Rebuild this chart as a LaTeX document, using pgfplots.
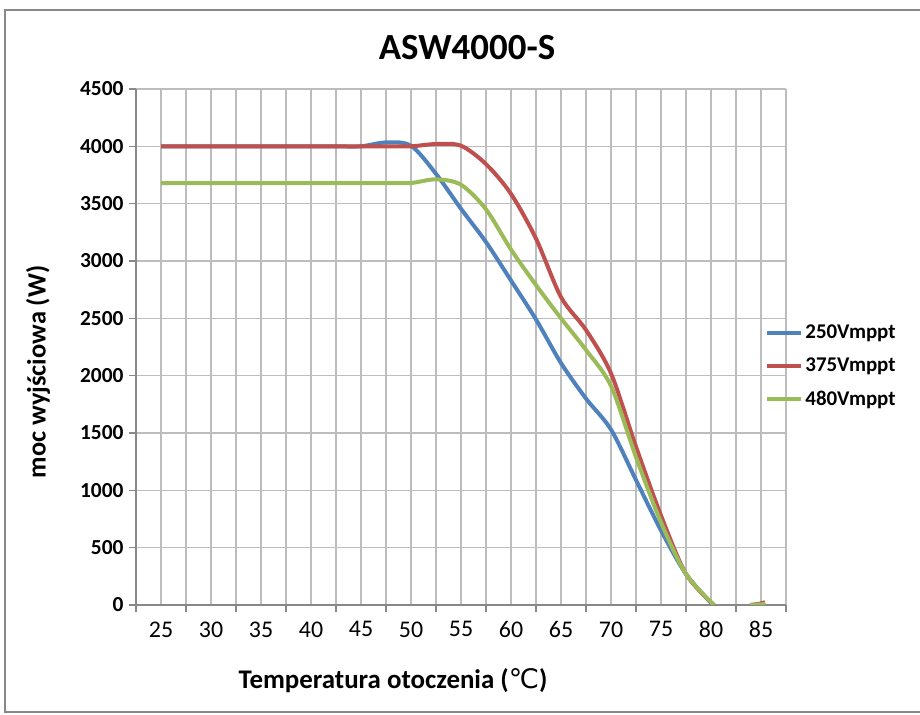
\documentclass[border=0pt]{standalone}
\usepackage{pgfplots}
\pgfplotsset{compat=1.18}
\usepackage{fontspec}
\setmainfont{Carlito}
\newfontfamily\dejavu{DejaVu Sans}

\definecolor{sblue}{HTML}{4F81BD}
\definecolor{sred}{HTML}{C0504D}
\definecolor{sgreen}{HTML}{9BBB59}
\definecolor{gridc}{HTML}{BDBDBD}
\definecolor{axisc}{HTML}{888888}

\begin{document}
\begin{tikzpicture}[x=1bp,y=1bp]
\useasboundingbox (0,0) rectangle (920,715);
\draw[axisc, line width=1.5bp] (5,3) rectangle (940,705);
\begin{axis}[
    at={(136bp,110bp)}, anchor=south west,
    width=650bp, height=516bp, scale only axis,
    xmin=22.5, xmax=87.5, ymin=0, ymax=4500,
    axis x line=bottom, axis y line=left,
    axis line style={-, color=axisc, line width=1.5bp},
    xtick={25,30,...,85},
    minor xtick={22.5,27.5,...,87.5},
    ytick={0,500,...,4500},
    grid=both,
    major grid style={gridc, line width=1.5bp},
    minor grid style={gridc, line width=1.5bp},
    tick align=outside,
    major x tick style={draw=none},
    minor x tick style={axisc, line width=1.5bp},
    minor tick length=7bp,
    y tick style={axisc, line width=1.5bp},
    major tick length=7bp,
    /pgf/number format/assume math mode=true,
    /pgf/number format/1000 sep={},
    xticklabel style={font=\fontsize{24}{24}\selectfont, yshift=-6bp},
    yticklabel style={font=\bfseries\fontsize{21.5}{21.5}\selectfont, xshift=-2bp},
    legend style={at={(0.968,0.463)}, anchor=west, draw=none, fill=none,
        font=\bfseries\fontsize{21}{21}\selectfont, row sep=14bp, inner sep=0pt},
    legend cell align=left,
    legend image code/.code={\draw[#1] (0bp,0bp) -- (34bp,0bp);},
    every axis plot/.append style={line width=4bp, smooth},
]
\addplot[sblue] coordinates {
(25,4000)(30,4000)(35,4000)(40,4000)(42.5,4000)(45,4000)(47.5,4034)(50,4005)
(52.5,3760)(55,3455)(57.5,3165)(60,2830)(62.5,2490)(65,2110)(67.5,1800)
(70,1530)(72.5,1090)(75,650)(77.5,270)(80.2,0)};
\addlegendentry{250Vmppt}
\addplot[sred] coordinates {
(25,4000)(30,4000)(35,4000)(40,4000)(45,4000)(47.5,4000)(50,4000)(52.5,4020)
(55,4005)(57.5,3845)(60,3585)(62.5,3195)(65,2685)(67.5,2398)(70,2020)
(72.5,1380)(75,780)(77.5,270)(80.3,0)};
\addlegendentry{375Vmppt}
\addplot[sgreen] coordinates {
(25,3680)(30,3680)(35,3680)(40,3680)(45,3680)(47.5,3680)(50,3680)(52.5,3712)
(55,3665)(57.5,3450)(60,3100)(62.5,2790)(65,2500)(67.5,2224)(70,1910)
(72.5,1290)(75,720)(77.5,270)(80.3,0)};
\addlegendentry{480Vmppt}
\addplot[sred, forget plot] coordinates {(83.9,0)(84.8,10)(85.4,25)};
\addplot[sgreen, forget plot] coordinates {(83.9,0)(85.4,8)};
\end{axis}
\node[font=\bfseries\fontsize{37}{37}\selectfont] at (467,667) {ASW4000-S};
\node[font=\bfseries\fontsize{26.5}{26.5}\selectfont, rotate=90] at (38,343) {moc wyjściowa (W)};
\node[font=\bfseries\fontsize{27}{27}\selectfont] at (393,34) {Temperatura otoczenia ({\dejavu\mdseries ℃})};
\end{tikzpicture}
\end{document}
